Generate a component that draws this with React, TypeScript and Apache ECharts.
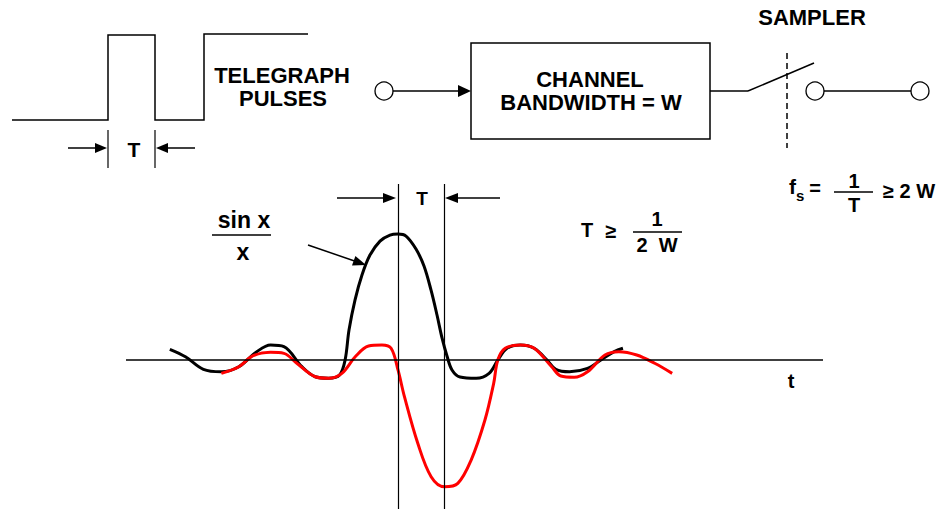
import React, { useEffect, useRef } from "react";
import * as echarts from "echarts";

// Received pulse (sin x / x like) response, t in units of T, amplitude normalised to peak
const blackT = [-4.96, -4.62, -4.23, -3.84, -3.46, -3.07, -2.77, -2.48, -2.09, -1.8, -1.51, -1.27, -1.15, -1.065, -0.935, -0.783, -0.609, -0.391, -0.174, 0.0, 0.174, 0.391, 0.565, 0.717, 0.848, 0.957, 1.065, 1.174, 1.348, 1.7, 1.98, 2.17, 2.37, 2.66, 2.96, 3.24, 3.43, 3.73, 4.12, 4.41, 4.7, 4.89];
const blackA = [0.085, 0.026, -0.074, -0.093, -0.053, 0.066, 0.119, 0.106, -0.053, -0.133, -0.145, -0.119, 0, 0.238, 0.476, 0.675, 0.833, 0.944, 0.992, 1.0, 0.984, 0.881, 0.746, 0.556, 0.357, 0.175, 0.032, -0.079, -0.135, -0.145, -0.106, 0, 0.093, 0.119, 0.093, 0, -0.074, -0.093, -0.066, 0, 0.066, 0.093];

// Next (negative) pulse response
const redT = [-3.84, -3.46, -3.16, -2.77, -2.48, -2.2, -1.8, -1.51, -1.22, -0.93, -0.64, -0.35, -0.15, 0.0, 0.14, 0.43, 0.72, 1.01, 1.3, 1.59, 1.89, 2.08, 2.17, 2.33, 2.66, 2.96, 3.34, 3.54, 3.83, 4.12, 4.5, 4.8, 5.19, 5.58, 5.96];
const redA = [-0.106, -0.053, 0.032, 0.061, 0.053, -0.026, -0.133, -0.145, -0.106, 0.026, 0.111, 0.119, 0.093, -0.079, -0.291, -0.661, -0.926, -1.006, -0.979, -0.794, -0.476, -0.185, 0, 0.093, 0.119, 0.093, -0.053, -0.127, -0.137, -0.093, 0.04, 0.066, 0.04, -0.026, -0.106];

// sample instants (guide lines) in units of T
const sampleInstants = [0, 1];

const FF = 'Arial, "Liberation Sans", Helvetica, sans-serif';

function txt(text: string, x: number, y: number, size: number, align = "center") {
  return {
    type: "text",
    silent: true,
    z: 10,
    style: {
      text,
      x,
      y,
      fill: "#000",
      fontSize: size,
      fontWeight: "bold",
      fontFamily: FF,
      textAlign: align,
      textVerticalAlign: "middle",
      verticalAlign: "middle",
    },
  };
}
function ln(x1: number, y1: number, x2: number, y2: number, w = 1.5, dash?: number[]) {
  return {
    type: "line",
    silent: true,
    z: 10,
    shape: { x1, y1, x2, y2 },
    style: { stroke: "#000", lineWidth: w, lineDash: dash },
  };
}
function tri(points: number[][]) {
  return { type: "polygon", silent: true, z: 10, shape: { points }, style: { fill: "#000" } };
}
function circ(cx: number, cy: number, r: number) {
  return {
    type: "circle",
    silent: true,
    z: 10,
    shape: { cx, cy, r },
    style: { fill: "#fff", stroke: "#000", lineWidth: 1.3 },
  };
}

export default function App() {
  const ref = useRef<HTMLDivElement>(null);
  useEffect(() => {
    if (!ref.current) return;
    const chart = echarts.init(ref.current, undefined, { renderer: "svg" });
    const graphic: any[] = [
      // telegraph pulses
      {
        type: "polyline",
        silent: true,
        z: 10,
        shape: { points: [[12, 120], [108, 120], [108, 35], [155, 35], [155, 120], [204, 120], [204, 34], [308, 34]] },
        style: { stroke: "#000", lineWidth: 1.5, fill: null },
      },
      ln(108, 130, 108, 168, 1.2),
      ln(155, 130, 155, 168, 1.2),
      ln(68, 148, 98, 148, 1.5),
      tri([[95, 143], [107, 148], [95, 153]]),
      ln(165, 148, 195, 148, 1.5),
      tri([[156, 148], [168, 143], [168, 153]]),
      txt("T", 134, 149, 21),
      txt("TELEGRAPH", 282, 75, 22),
      txt("PULSES", 283, 98, 22),
      // channel
      circ(384, 91, 9),
      ln(393, 91, 460, 91, 1.5),
      tri([[458, 85], [471, 91], [458, 97]]),
      {
        type: "rect",
        silent: true,
        z: 10,
        shape: { x: 471, y: 43, width: 239, height: 96 },
        style: { fill: "#fff", stroke: "#000", lineWidth: 1.5 },
      },
      txt("CHANNEL", 590, 79, 22),
      txt("BANDWIDTH = W", 591, 102, 22),
      // sampler
      ln(710, 91, 748, 91, 1.5),
      ln(748, 91, 814, 63, 1.5),
      ln(787, 53, 787, 148, 1.5, [6, 4]),
      circ(815, 91, 9),
      ln(824, 91, 911, 91, 1.5),
      circ(920, 91, 9),
      txt("SAMPLER", 812, 17, 22),
      // fs formula
      txt("f", 789, 186, 21, "left"),
      txt("s", 796, 195, 15, "left"),
      txt("=", 815, 188, 20),
      txt("1", 854, 181, 20),
      ln(834, 192, 873, 192, 1.5),
      txt("T", 854, 205, 20),
      txt("\u2265 2 W", 883, 191, 20, "left"),
      // T >= 1/2W
      txt("T", 587, 230, 20),
      txt("\u2265", 611, 231, 20),
      txt("1", 657, 219, 20),
      ln(633, 232, 682, 232, 1.5),
      txt("2  W", 657, 245, 20),
      // sin x / x
      txt("sin x", 244, 220, 23),
      ln(212, 235, 271, 235, 1.5),
      txt("x", 243, 252, 23),
      ln(308, 245, 356, 261.5, 1.5),
      tri([[366, 265], [352, 265.4], [355.4, 256]]),
      // top T dimension
      ln(337, 198, 386, 198, 1.5),
      tri([[383, 193], [396, 198], [383, 203]]),
      txt("T", 422, 198, 19),
      ln(457, 198, 500, 198, 1.5),
      tri([[445, 198], [458, 193], [458, 203]]),
      // t axis label
      txt("t", 791, 381, 20),
    ];

    const option: any = {
      animation: false,
      backgroundColor: "#fff",
      grid: { left: 126, right: 120, top: 184, bottom: 0, containLabel: false },
      xAxis: {
        type: "value",
        min: -5.913,
        max: 9.239,
        show: false,
        splitLine: { show: false },
      },
      yAxis: {
        type: "value",
        min: -1.1825,
        max: 1.397,
        show: false,
        splitLine: { show: false },
      },
      graphic,
      series: [
        {
          type: "line",
          name: "pulse",
          data: blackT.map((t, i) => [t, blackA[i]]),
          showSymbol: false,
          symbol: "none",
          smooth: 0.35,
          lineStyle: { color: "#000", width: 3 },
          z: 3,
          markLine: {
            silent: true,
            symbol: "none",
            label: { show: false },
            lineStyle: { color: "#000", width: 1.2, type: "solid" },
            data: [
              ...sampleInstants.map((s) => ({ xAxis: s })),
              { yAxis: 0, lineStyle: { color: "#000", width: 1.5, type: "solid" } },
            ],
          },
        },
        {
          type: "line",
          name: "next",
          data: redT.map((t, i) => [t, redA[i]]),
          showSymbol: false,
          symbol: "none",
          smooth: 0.35,
          lineStyle: { color: "#ff0000", width: 3 },
          z: 4,
        },
      ],
    };
    chart.setOption(option);
    return () => chart.dispose();
  }, []);
  return (
    <div
      ref={ref}
      style={{ position: "absolute", left: 0, top: 0, width: 943, height: 509, background: "#fff" }}
    />
  );
}
